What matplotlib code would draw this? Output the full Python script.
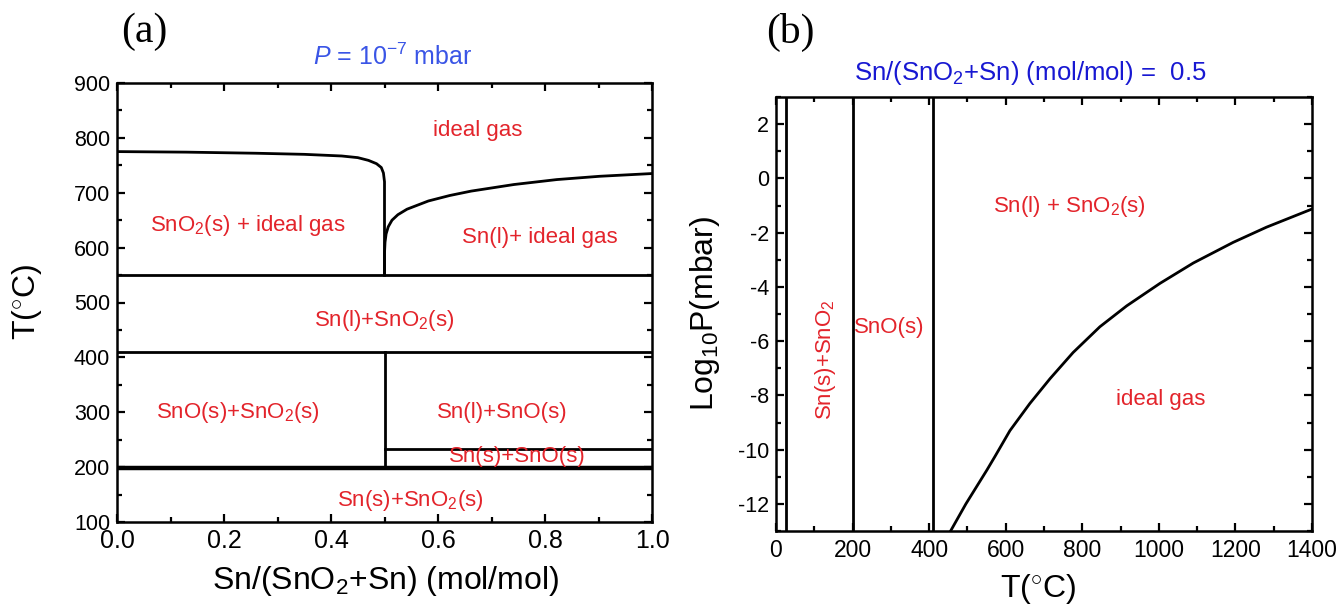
import matplotlib
matplotlib.use("Agg")
import matplotlib.pyplot as plt
from matplotlib.ticker import MultipleLocator

plt.rcParams["font.family"] = ["Liberation Sans", "DejaVu Sans"]
plt.rcParams["mathtext.fontset"] = "custom"
plt.rcParams["mathtext.rm"] = "Liberation Sans"
plt.rcParams["mathtext.it"] = "Liberation Sans:italic"
plt.rcParams["mathtext.bf"] = "Liberation Sans:bold"
plt.rcParams["axes.unicode_minus"] = False

# ---- Panel (a): isobaric section at P = 1e-7 mbar ----
gas_left_x = [0.0, 0.13, 0.26, 0.35, 0.42, 0.45, 0.47, 0.485, 0.494, 0.498, 0.5, 0.5]
gas_left_T = [775, 774, 772, 770, 767, 764, 759, 753, 746, 736, 720, 550]
gas_right_x = [0.5, 0.5, 0.501, 0.503, 0.507, 0.514, 0.525, 0.542, 0.582, 0.622, 0.662,
               0.742, 0.822, 0.902, 1.0]
gas_right_T = [550, 590, 610, 625, 638, 650, 660, 670, 685, 695, 703, 715, 724, 730, 735]
full_isotherms = [550, 410, 198]
sn_melt_T = 233
split_x = 0.5
split_T_range = [198, 410]

labels_a = [
    ("ideal gas", 0.675, 814),
    ("SnO$_2$(s) + ideal gas", 0.245, 641),
    ("Sn(l)+ ideal gas", 0.79, 619),
    ("Sn(l)+SnO$_2$(s)", 0.50, 468),
    ("SnO(s)+SnO$_2$(s)", 0.226, 299),
    ("Sn(l)+SnO(s)", 0.72, 300),
    ("Sn(s)+SnO(s)", 0.748, 220),
    ("Sn(s)+SnO$_2$(s)", 0.548, 140),
]

# ---- Panel (b): section at Sn/(SnO2+Sn) = 0.5 ----
vertical_T = [25, 200, 410]
vap_T = [456, 496, 551, 572, 611, 663, 716, 776, 846, 916, 1003, 1090, 1194, 1281, 1400]
vap_logP = [-13.0, -12.0, -10.75, -10.25, -9.3, -8.3, -7.38, -6.42, -5.47, -4.7,
            -3.87, -3.12, -2.36, -1.8, -1.13]

labels_b = [
    ("Sn(l) + SnO$_2$(s)", 766, -1.05, 0),
    ("ideal gas", 1006, -8.14, 0),
    ("SnO(s)", 297, -5.5, 0),
    ("Sn(s)+SnO$_2$", 130, -6.7, 90),
]

red = "#e3242b"
blue_a = "#3a55e6"
blue_b = "#1818d2"

W, H = 1340, 608
fig = plt.figure(figsize=(W / 100, H / 100), dpi=100)


def fx(px):
    return px / W


def fy(py):
    return 1 - py / H


ax1 = fig.add_axes([fx(117), fy(522), fx(652) - fx(117), fy(83) - fy(522)])
ax2 = fig.add_axes([fx(776), fy(531), fx(1312) - fx(776), fy(97) - fy(531)])

lw = 2.0
ax1.plot(gas_left_x, gas_left_T, color="black", lw=lw)
ax1.plot(gas_right_x, gas_right_T, color="black", lw=lw)
for T in full_isotherms:
    ax1.plot([0, 1], [T, T], color="black", lw=lw if T != 198 else 3.2)
ax1.plot([split_x, 1], [sn_melt_T, sn_melt_T], color="black", lw=lw)
ax1.plot([split_x, split_x], split_T_range, color="black", lw=lw)
for txt, x, y in labels_a:
    ax1.text(x, y, txt, color=red, fontsize=16, ha="center", va="center")

ax1.set_xlim(0, 1)
ax1.set_ylim(100, 900)
ax1.xaxis.set_major_locator(MultipleLocator(0.2))
ax1.xaxis.set_minor_locator(MultipleLocator(0.1))
ax1.yaxis.set_major_locator(MultipleLocator(100))
ax1.yaxis.set_minor_locator(MultipleLocator(50))
ax1.tick_params(axis="x", labelsize=18, pad=5)
ax1.tick_params(axis="y", labelsize=15.5, pad=5)

for T in vertical_T:
    ax2.plot([T, T], [-13, 3], color="black", lw=lw)
ax2.plot(vap_T, vap_logP, color="black", lw=lw)
for txt, x, y, rot in labels_b:
    ax2.text(x, y, txt, color=red, fontsize=16, ha="center", va="center", rotation=rot)

ax2.set_xlim(0, 1400)
ax2.set_ylim(-13, 3)
ax2.xaxis.set_major_locator(MultipleLocator(200))
ax2.xaxis.set_minor_locator(MultipleLocator(100))
ax2.yaxis.set_major_locator(MultipleLocator(2))
ax2.yaxis.set_minor_locator(MultipleLocator(1))
ax2.tick_params(axis="x", labelsize=16.5, pad=6)
ax2.tick_params(axis="y", labelsize=15.5, pad=5)

for ax in (ax1, ax2):
    for s in ax.spines.values():
        s.set_linewidth(1.8)
    ax.tick_params(which="both", direction="in", top=True, right=True, width=1.6)
    ax.tick_params(which="major", length=6)
    ax.tick_params(which="minor", length=3.5)

# axis titles, headings and panel letters
fig.text(fx(386), fy(589), "Sn/(SnO$_2$+Sn) (mol/mol)", fontsize=23, ha="center", va="baseline")
fig.text(fx(27), fy(302), "T($^{\\circ}$C)", fontsize=23, ha="center", va="center", rotation=90)
fig.text(fx(1038), fy(597), "T($^{\\circ}$C)", fontsize=23, ha="center", va="baseline")
fig.text(fx(705), fy(313), "Log$_{10}$P(mbar)", fontsize=23, ha="center", va="center", rotation=90)

fig.text(fx(393), fy(65), "$P$ = 10$^{-7}$ mbar", color=blue_a, fontsize=18, ha="center", va="baseline")
fig.text(fx(1030), fy(80), "Sn/(SnO$_2$+Sn) (mol/mol) =  0.5", color=blue_b, fontsize=18.5,
         ha="center", va="baseline")

fig.text(fx(144), fy(32), "(a)", family="Liberation Serif", fontsize=30, va="center", ha="center")
fig.text(fx(790), fy(32), "(b)", family="Liberation Serif", fontsize=30, va="center", ha="center")

fig.savefig("out.png", dpi=100)
